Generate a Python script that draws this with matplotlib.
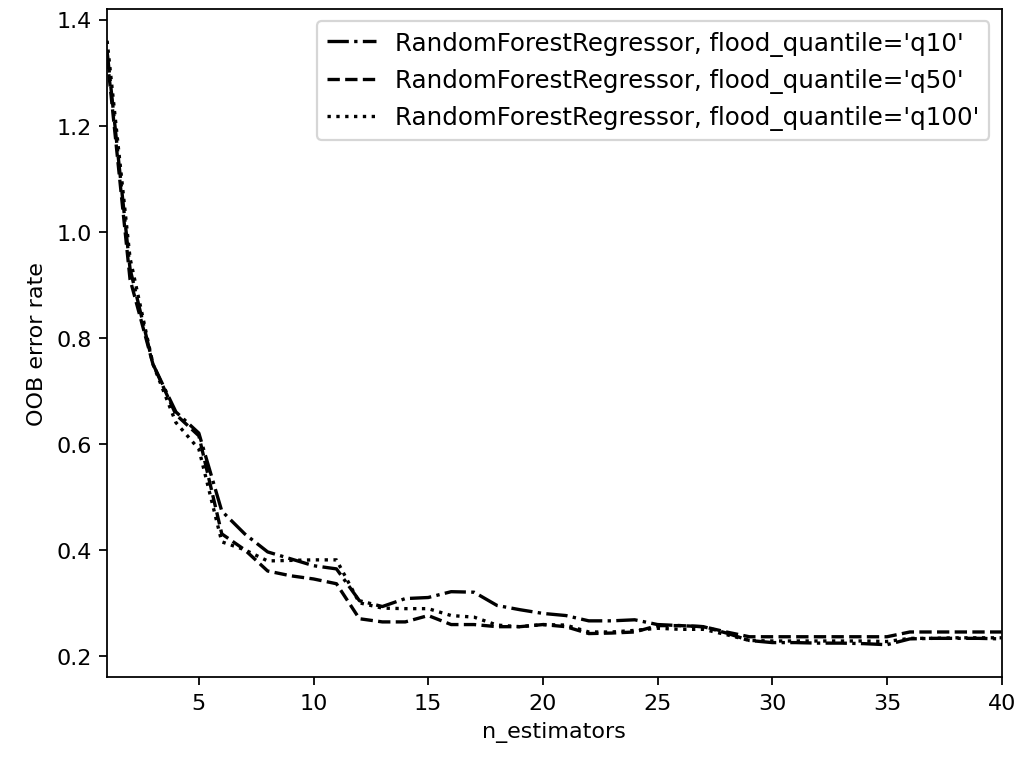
import matplotlib
matplotlib.use("Agg")
import matplotlib.pyplot as plt

n_estimators = list(range(1, 41))

oob_q10 = [1.34, 0.93, 0.75, 0.66, 0.62, 0.473, 0.43, 0.396, 0.383, 0.37,
           0.364, 0.304, 0.293, 0.308, 0.31, 0.321, 0.32, 0.295, 0.287, 0.28,
           0.276, 0.266, 0.266, 0.268, 0.259, 0.257, 0.255, 0.243, 0.229, 0.225,
           0.225, 0.224, 0.224, 0.223, 0.221, 0.232, 0.233, 0.233, 0.233, 0.232]

oob_q50 = [1.33, 0.91, 0.75, 0.655, 0.615, 0.43, 0.40, 0.36, 0.351, 0.345,
           0.336, 0.27, 0.264, 0.264, 0.276, 0.259, 0.259, 0.255, 0.255, 0.259,
           0.255, 0.242, 0.243, 0.245, 0.257, 0.257, 0.255, 0.245, 0.236, 0.236,
           0.236, 0.236, 0.236, 0.236, 0.236, 0.245, 0.245, 0.245, 0.245, 0.245]

oob_q100 = [1.36, 0.95, 0.75, 0.64, 0.59, 0.415, 0.40, 0.379, 0.38, 0.381,
            0.381, 0.30, 0.29, 0.289, 0.289, 0.276, 0.273, 0.258, 0.255, 0.259,
            0.258, 0.245, 0.245, 0.248, 0.252, 0.25, 0.25, 0.24, 0.229, 0.228,
            0.228, 0.228, 0.228, 0.228, 0.227, 0.233, 0.233, 0.234, 0.234, 0.234]

labels = ["RandomForestRegressor, flood_quantile='q10'",
          "RandomForestRegressor, flood_quantile='q50'",
          "RandomForestRegressor, flood_quantile='q100'"]

fig = plt.figure(figsize=(6.375, 4.756), dpi=160)
ax = fig.add_axes([0.105, 0.109, 0.877, 0.878])

ax.plot(n_estimators, oob_q10, "k-.", label=labels[0])
ax.plot(n_estimators, oob_q50, "k--", label=labels[1])
ax.plot(n_estimators, oob_q100, "k:", label=labels[2])

ax.set_xlim(1, 40)
ax.set_ylim(0.16, 1.42)
ax.set_xlabel("n_estimators")
ax.set_ylabel("OOB error rate")
ax.legend(loc="upper right", fontsize=11)

fig.savefig("out.png", dpi=160)
